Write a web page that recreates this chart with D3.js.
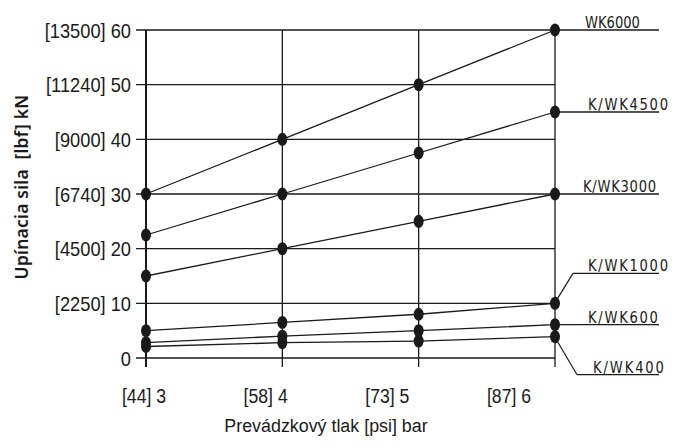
<!DOCTYPE html>
<html><head><meta charset="utf-8">
<script src="https://cdn.jsdelivr.net/npm/d3@7"></script>
<style>
html,body{margin:0;padding:0;background:#fff;}
svg{display:block;}
</style></head>
<body>
<svg id="c" width="685" height="448"></svg>
<script>
// ---- data ----
const pressures = [3, 4, 5, 6];
const xTickLabels = ["[44] 3", "[58] 4", "[73] 5", "[87] 6"];
const yTicks = [0, 10, 20, 30, 40, 50, 60];
const yTickLabels = ["0", "[2250] 10", "[4500] 20", "[6740] 30", "[9000] 40", "[11240] 50", "[13500] 60"];
const seriesNames = ["WK6000", "K/WK4500", "K/WK3000", "K/WK1000", "K/WK600", "K/WK400"];
const wk6000 = [30, 40, 50, 60];
const kwk4500 = [22.5, 30, 37.5, 45];
const kwk3000 = [15, 20, 25, 30];
const kwk1000 = [5, 6.5, 8, 10];
const kwk600 = [2.8, 4, 5, 6.1];
const kwk400 = [2.1, 2.8, 3.1, 3.9];
const xTitle = "Prevádzkový tlak [psi] bar";
const yTitle = "Upínacia sila  [lbf] kN";

const seriesValues = [wk6000, kwk4500, kwk3000, kwk1000, kwk600, kwk400];

// ---- layout ----
const svg = d3.select("#c");
const x = d3.scaleLinear().domain([3, 6]).range([146, 555]);
const y = d3.scaleLinear().domain([0, 60]).range([358, 30]);
const xLabelPos = d3.scaleLinear().domain([3, 6]).range([144, 509]);
const ink = "#1a1a1a";
const sans = "'Liberation Sans', Arial, sans-serif";
const cond = 0.87;

// horizontal grid + ticks
svg.append("g").selectAll("line").data(yTicks).join("line")
  .attr("x1", 136).attr("x2", x(6))
  .attr("y1", d => y(d)).attr("y2", d => y(d))
  .attr("stroke", ink).attr("stroke-width", 1.3);

// vertical grid
svg.append("g").selectAll("line").data(pressures).join("line")
  .attr("x1", d => x(d)).attr("x2", d => x(d))
  .attr("y1", y(60)).attr("y2", 367)
  .attr("stroke", ink).attr("stroke-width", d => d === 3 ? 2 : 1.3);

// y tick labels
svg.append("g").selectAll("text").data(yTicks).join("text")
  .attr("transform", d => `translate(131,${y(d)}) scale(${cond},1)`)
  .attr("dy", "0.36em")
  .attr("text-anchor", "end")
  .attr("font-family", sans).attr("font-size", 21).attr("fill", ink)
  .text((d, i) => yTickLabels[i]);

// x tick labels
svg.append("g").selectAll("text").data(pressures).join("text")
  .attr("transform", d => `translate(${xLabelPos(d)},403) scale(0.84,1)`)
  .attr("text-anchor", "middle")
  .attr("font-family", sans).attr("font-size", 21).attr("fill", ink)
  .text((d, i) => xTickLabels[i]);

// titles
svg.append("text").attr("transform", "translate(326,432) scale(0.94,1)")
  .attr("text-anchor", "middle")
  .attr("font-family", sans).attr("font-size", 19).attr("fill", ink).text(xTitle);
svg.append("text").attr("transform", "translate(28,187) rotate(-90)")
  .attr("text-anchor", "middle").style("white-space", "pre").attr("xml:space", "preserve")
  .attr("font-family", "'Noto Sans', sans-serif").attr("font-weight", 600)
  .attr("font-size", 17.5).attr("letter-spacing", 0.2).attr("fill", ink).text(yTitle);

// series lines
const line = d3.line().x((d, i) => x(pressures[i])).y(d => y(d));
svg.append("g").selectAll("path").data(seriesValues).join("path")
  .attr("d", line).attr("fill", "none").attr("stroke", ink).attr("stroke-width", 1.3);

// markers
seriesValues.forEach(vals => {
  svg.append("g").selectAll("ellipse").data(vals).join("ellipse")
    .attr("cx", (d, i) => x(pressures[i])).attr("cy", d => y(d))
    .attr("rx", 5).attr("ry", 6.5).attr("fill", ink);
});

// right labels (layout offsets)
const labelLayout = [
  {dy: 0, tx: 585, ls: 0, ux1: 555},
  {dy: 0, tx: 588, ls: 2.1, ux1: 555},
  {dy: 0, tx: 583, ls: 0.9, ux1: 555},
  {dy: -30, tx: 588, ls: 2.1, ux1: 573, leader: true},
  {dy: 0, tx: 588, ls: 2.1, ux1: 555},
  {dy: 38, tx: 593, ls: 2.3, ux1: 577, leader: true}
];
seriesNames.forEach((name, i) => {
  const L = labelLayout[i];
  const last = seriesValues[i][seriesValues[i].length - 1];
  const py = y(last);
  const uy = py + L.dy;
  const g = svg.append("g");
  if (L.leader) {
    g.append("line").attr("x1", x(6) + 2).attr("y1", py + (L.dy < 0 ? -4 : 4))
      .attr("x2", L.ux1).attr("y2", uy).attr("stroke", ink).attr("stroke-width", 1.2);
  }
  g.append("line").attr("x1", L.ux1).attr("x2", 659).attr("y1", uy).attr("y2", uy)
    .attr("stroke", ink).attr("stroke-width", 1.3);
  g.append("text").attr("transform", `translate(${L.tx},${uy - 2}) scale(0.82,1)`)
    .attr("font-family", "'DejaVu Sans', sans-serif").attr("font-size", 16)
    .attr("letter-spacing", L.ls).attr("fill", ink).text(name);
});
</script>
</body></html>
